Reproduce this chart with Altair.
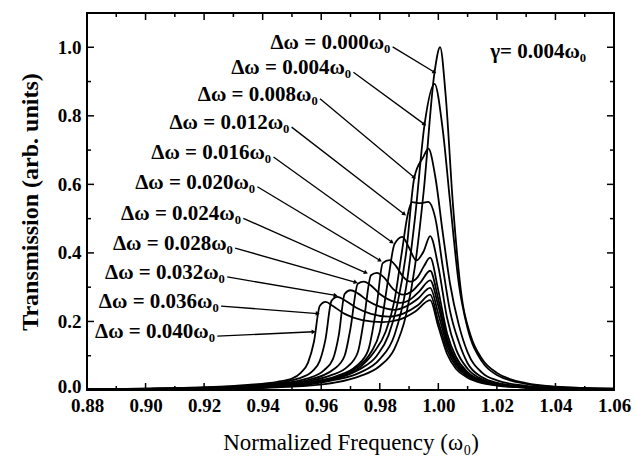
import math
import altair as alt
import pandas as pd

# ---------------- data ----------------
deltas = ["0.000", "0.004", "0.008", "0.012", "0.016", "0.020",
          "0.024", "0.028", "0.032", "0.036", "0.040"]

x_000 = [0.88, 0.90, 0.92, 0.935, 0.945, 0.955, 0.965, 0.973, 0.980, 0.985, 0.989, 0.992, 0.995, 0.9987, 1.0006, 1.0025, 1.005, 1.008, 1.011, 1.015, 1.020, 1.030, 1.040, 1.060]
y_000 = [0.001, 0.002, 0.003, 0.005, 0.008, 0.012, 0.022, 0.040, 0.070, 0.120, 0.220, 0.360, 0.580, 0.927, 1.000, 0.860, 0.540, 0.270, 0.160, 0.090, 0.050, 0.020, 0.010, 0.004]

x_004 = [0.88, 0.90, 0.92, 0.935, 0.945, 0.955, 0.965, 0.973, 0.980, 0.985, 0.989, 0.992, 0.9953, 0.9987, 1.0015, 1.004, 1.007, 1.010, 1.015, 1.020, 1.030, 1.040, 1.060]
y_004 = [0.002, 0.003, 0.004, 0.006, 0.009, 0.015, 0.030, 0.050, 0.090, 0.160, 0.300, 0.500, 0.775, 0.893, 0.760, 0.550, 0.310, 0.180, 0.082, 0.044, 0.018, 0.009, 0.004]

x_008 = [0.88, 0.90, 0.92, 0.935, 0.945, 0.955, 0.965, 0.973, 0.979, 0.983, 0.986, 0.989, 0.9918, 0.9949, 0.9966, 0.999, 1.0015, 1.004, 1.007, 1.010, 1.015, 1.020, 1.030, 1.040, 1.060]
y_008 = [0.002, 0.003, 0.004, 0.006, 0.010, 0.017, 0.033, 0.060, 0.100, 0.160, 0.250, 0.400, 0.620, 0.680, 0.704, 0.620, 0.460, 0.310, 0.190, 0.110, 0.050, 0.028, 0.012, 0.006, 0.003]

x_012 = [0.88, 0.90, 0.92, 0.935, 0.945, 0.955, 0.965, 0.973, 0.978, 0.982, 0.985, 0.9875, 0.9895, 0.991, 0.9937, 0.9965, 0.999, 1.0015, 1.004, 1.007, 1.010, 1.015, 1.020, 1.030, 1.040, 1.060]
y_012 = [0.002, 0.003, 0.004, 0.006, 0.010, 0.018, 0.035, 0.065, 0.110, 0.170, 0.260, 0.400, 0.510, 0.548, 0.545, 0.549, 0.500, 0.360, 0.230, 0.140, 0.078, 0.037, 0.021, 0.010, 0.005, 0.002]

x_016 = [0.88, 0.90, 0.92, 0.935, 0.945, 0.955, 0.965, 0.972, 0.977, 0.980, 0.983, 0.985, 0.9877, 0.990, 0.9925, 0.995, 0.9972, 1.000, 1.003, 1.006, 1.010, 1.015, 1.020, 1.030, 1.040, 1.060]
y_016 = [0.002, 0.003, 0.004, 0.007, 0.011, 0.020, 0.038, 0.065, 0.110, 0.170, 0.330, 0.425, 0.447, 0.415, 0.378, 0.405, 0.449, 0.360, 0.210, 0.120, 0.062, 0.031, 0.019, 0.009, 0.005, 0.002]

x_020 = [0.88, 0.90, 0.92, 0.935, 0.945, 0.955, 0.965, 0.972, 0.976, 0.979, 0.981, 0.9833, 0.9855, 0.988, 0.9905, 0.993, 0.995, 0.9972, 1.000, 1.003, 1.006, 1.010, 1.015, 1.020, 1.030, 1.040, 1.060]
y_020 = [0.002, 0.003, 0.004, 0.008, 0.012, 0.022, 0.040, 0.070, 0.115, 0.250, 0.370, 0.379, 0.362, 0.330, 0.316, 0.330, 0.360, 0.386, 0.290, 0.165, 0.097, 0.052, 0.027, 0.017, 0.009, 0.005, 0.002]

x_024 = [0.88, 0.90, 0.92, 0.935, 0.945, 0.955, 0.963, 0.969, 0.9725, 0.9745, 0.977, 0.979, 0.9815, 0.9845, 0.988, 0.991, 0.994, 0.9972, 1.000, 1.003, 1.006, 1.010, 1.015, 1.020, 1.030, 1.040, 1.060]
y_024 = [0.002, 0.003, 0.005, 0.009, 0.014, 0.025, 0.042, 0.068, 0.110, 0.200, 0.335, 0.342, 0.328, 0.295, 0.278, 0.288, 0.315, 0.348, 0.265, 0.150, 0.087, 0.048, 0.025, 0.016, 0.008, 0.004, 0.002]

x_028 = [0.88, 0.90, 0.92, 0.935, 0.945, 0.955, 0.9645, 0.968, 0.970, 0.9725, 0.9745, 0.977, 0.980, 0.984, 0.987, 0.990, 0.9935, 0.9972, 1.000, 1.003, 1.006, 1.010, 1.015, 1.020, 1.030, 1.040, 1.060]
y_028 = [0.002, 0.003, 0.005, 0.010, 0.016, 0.028, 0.062, 0.100, 0.180, 0.310, 0.316, 0.305, 0.280, 0.260, 0.254, 0.262, 0.288, 0.320, 0.245, 0.140, 0.082, 0.045, 0.024, 0.015, 0.008, 0.004, 0.002]

x_032 = [0.88, 0.90, 0.92, 0.935, 0.945, 0.955, 0.961, 0.964, 0.966, 0.968, 0.970, 0.9725, 0.976, 0.980, 0.985, 0.989, 0.993, 0.9972, 1.000, 1.003, 1.006, 1.010, 1.015, 1.020, 1.030, 1.040, 1.060]
y_032 = [0.002, 0.003, 0.006, 0.011, 0.018, 0.033, 0.058, 0.090, 0.160, 0.280, 0.291, 0.282, 0.260, 0.243, 0.234, 0.244, 0.266, 0.298, 0.222, 0.130, 0.077, 0.043, 0.023, 0.015, 0.008, 0.004, 0.002]

x_036 = [0.88, 0.90, 0.92, 0.935, 0.945, 0.952, 0.957, 0.9595, 0.9615, 0.9635, 0.9655, 0.968, 0.972, 0.977, 0.983, 0.988, 0.993, 0.9972, 1.000, 1.003, 1.006, 1.010, 1.015, 1.020, 1.030, 1.040, 1.060]
y_036 = [0.002, 0.004, 0.007, 0.013, 0.020, 0.033, 0.055, 0.085, 0.150, 0.260, 0.272, 0.262, 0.240, 0.222, 0.214, 0.223, 0.247, 0.278, 0.200, 0.118, 0.070, 0.040, 0.022, 0.014, 0.007, 0.004, 0.002]

x_040 = [0.88, 0.90, 0.92, 0.935, 0.945, 0.950, 0.953, 0.9555, 0.9575, 0.9595, 0.9615, 0.964, 0.968, 0.974, 0.981, 0.987, 0.992, 0.9972, 1.000, 1.003, 1.006, 1.010, 1.015, 1.020, 1.030, 1.040, 1.060]
y_040 = [0.002, 0.004, 0.008, 0.015, 0.024, 0.033, 0.050, 0.080, 0.140, 0.245, 0.257, 0.245, 0.222, 0.204, 0.198, 0.206, 0.228, 0.262, 0.185, 0.105, 0.062, 0.036, 0.020, 0.013, 0.007, 0.004, 0.002]

# label anchors (right edge / middle of text) and arrow targets, data units
label_x = [0.9836, 0.9702, 0.9588, 0.9491, 0.9429, 0.9374, 0.9326, 0.9298, 0.9271, 0.9250, 0.9237]
label_y = [1.013, 0.939, 0.862, 0.779, 0.692, 0.605, 0.513, 0.426, 0.342, 0.257, 0.169]
arrow_x = [0.9987, 0.9953, 0.9918, 0.9884, 0.9842, 0.9801, 0.9753, 0.9718, 0.9649, 0.9588, 0.9574]
arrow_y = [0.927, 0.775, 0.620, 0.513, 0.431, 0.378, 0.342, 0.314, 0.276, 0.223, 0.170]

gamma_text = "γ= 0.004ω₀"
gamma_x, gamma_y = 1.0177, 0.986

x_major = [0.88, 0.90, 0.92, 0.94, 0.96, 0.98, 1.00, 1.02, 1.04, 1.06]
x_minor = [0.89, 0.91, 0.93, 0.95, 0.97, 0.99, 1.01, 1.03, 1.05]
y_major = [0.0, 0.2, 0.4, 0.6, 0.8, 1.0]
y_minor = [0.1, 0.3, 0.5, 0.7, 0.9]

# ---------------- build tables ----------------
series = [x_000, y_000, x_004, y_004, x_008, y_008, x_012, y_012, x_016, y_016,
          x_020, y_020, x_024, y_024, x_028, y_028, x_032, y_032, x_036, y_036, x_040, y_040]
rows = []
for i, d in enumerate(deltas):
    xs_, ys_ = series[2 * i], series[2 * i + 1]
    for xv, yv in zip(xs_, ys_):
        rows.append({"curve": d, "x": xv, "y": yv})
curves = pd.DataFrame(rows)

W, H = 527, 377
XMIN, XMAX, YMIN, YMAX = 0.88, 1.06, 0.0, 1.1
px_x = W / (XMAX - XMIN)
px_y = H / (YMAX - YMIN)

lab_rows = []
for d, lx, ly, ax, ay in zip(deltas, label_x, label_y, arrow_x, arrow_y):
    sx, sy = lx + 0.0008, ly - 0.012
    dx = (ax - sx) * px_x
    dy = -(ay - sy) * px_y
    ang = math.degrees(math.atan2(dx, -dy)) % 360
    lab_rows.append({"text": f"Δω = {d}ω₀", "lx": lx, "ly": ly,
                     "sx": sx, "sy": sy, "ax": ax, "ay": ay, "ang": ang})
labels = pd.DataFrame(lab_rows)

xs = alt.Scale(domain=[XMIN, XMAX], nice=False, zero=False)
ys = alt.Scale(domain=[YMIN, YMAX], nice=False, zero=False)

SERIF = "Liberation Serif"

XAX = alt.Axis(
    values=x_major, format=".2f", ticks=False, domain=False, grid=False,
    labelFont=SERIF, labelFontSize=19, labelFontWeight="bold", labelColor="black",
    labelPadding=6, labelFlush=False,
    title="Normalized Frequency (ω₀)", titleFont=SERIF, titleFontSize=23,
    titleFontWeight="normal", titleColor="black", titlePadding=16)
YAX = alt.Axis(
    values=y_major, format=".1f", ticks=False, domain=False, grid=False,
    labelFont=SERIF, labelFontSize=19, labelFontWeight="bold", labelColor="black",
    labelPadding=6, labelFlush=False,
    labelOffset=alt.ExprRef("datum.value == 0 ? -4 : 0"),
    title="Transmission (arb. units)", titleFont=SERIF, titleFontSize=24,
    titleFontWeight="bold", titleColor="black", titlePadding=15)


def X(field):
    return alt.X(field, type="quantitative", scale=xs, axis=XAX)


def Y(field):
    return alt.Y(field, type="quantitative", scale=ys, axis=YAX)


lines = alt.Chart(curves).mark_line(
    color="black", strokeWidth=1.8, interpolate="monotone"
).encode(x=X("x"), y=Y("y"), detail="curve:N")


def xticks(vals, length):
    df = pd.DataFrame({"v": vals})
    bottom = alt.Chart(df).mark_rule(color="black", strokeWidth=1.5).encode(
        x=X("v"), y=alt.value(H), y2=alt.value(H - length))
    top = alt.Chart(df).mark_rule(color="black", strokeWidth=1.5).encode(
        x=X("v"), y=alt.value(0), y2=alt.value(length))
    return [bottom, top]


def yticks(vals, length):
    df = pd.DataFrame({"v": vals})
    left = alt.Chart(df).mark_rule(color="black", strokeWidth=1.5).encode(
        y=Y("v"), x=alt.value(0), x2=alt.value(length))
    right = alt.Chart(df).mark_rule(color="black", strokeWidth=1.5).encode(
        y=Y("v"), x=alt.value(W), x2=alt.value(W - length))
    return [left, right]


ticks = xticks(x_major, 7) + xticks(x_minor, 4) + yticks(y_major, 7) + yticks(y_minor, 4)

leaders = alt.Chart(labels).mark_rule(color="black", strokeWidth=1.3).encode(
    x=X("sx"), y=Y("sy"), x2="ax:Q", y2="ay:Q")

heads = alt.Chart(labels).mark_point(
    shape="triangle-up", filled=True, color="black", size=22, opacity=1
).encode(x=X("ax"), y=Y("ay"), angle=alt.Angle("ang:Q", scale=None))

texts = alt.Chart(labels).mark_text(
    align="right", baseline="middle", font=SERIF, fontSize=21, fontWeight="bold", color="black"
).encode(x=X("lx"), y=Y("ly"), text="text:N")

gamma = alt.Chart(pd.DataFrame({"x": [gamma_x], "y": [gamma_y], "t": [gamma_text]})).mark_text(
    align="left", baseline="middle", font=SERIF, fontSize=21, fontWeight="bold", color="black"
).encode(x=X("x"), y=Y("y"), text="t:N")

chart = alt.layer(lines, *ticks, leaders, heads, texts, gamma).properties(
    width=W, height=H,
    autosize=alt.AutoSizeParams(type="none"),
    padding={"left": 87, "top": 13, "right": 22, "bottom": 72},
    background="white",
).configure_view(stroke="black", strokeWidth=2)

chart.save("out.html", embed_options={"renderer": "svg", "actions": False})
